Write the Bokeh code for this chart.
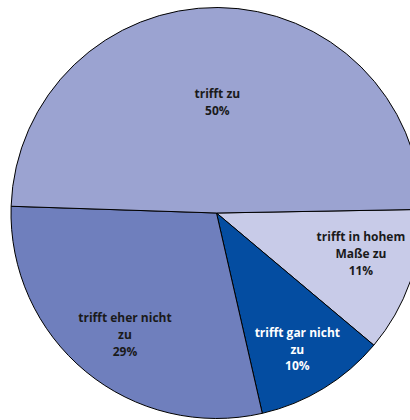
import math
from bokeh.plotting import figure
from bokeh.models import Range1d, ColumnDataSource
from bokeh.core.properties import value
from bokeh.embed import file_html
from bokeh.resources import INLINE

# Data (clockwise from the 3 o'clock side)
categories = ["trifft in hohem\nMaße zu", "trifft gar nicht\nzu", "trifft eher nicht\nzu", "trifft zu"]
shares = [11.4, 10.3, 29.1, 49.2]
pct_labels = ["11%", "10%", "29%", "50%"]

colors = ["#C8CBE8", "#044DA1", "#6F7FBD", "#9BA3D1"]
text_colors = ["#1a1a1a", "#ffffff", "#1a1a1a", "#1a1a1a"]
label_frac = [0.73, 0.77, 0.74, 0.54]
label_shift = [3.8, -0.7, 2.5, 0.0]   # degrees

W, H = 410, 420
cx, cy, r = 216.0, 207.5, 205.5
start_deg = 1.0

total = sum(shares)
starts, ends, lx, ly, texts = [], [], [], [], []
a = start_deg
for i, s in enumerate(shares):
    sweep = 360.0 * s / total
    b = a - sweep
    starts.append(math.radians(b))
    ends.append(math.radians(a))
    mid = math.radians((a + b) / 2 + label_shift[i])
    lx.append(cx + label_frac[i] * r * math.cos(mid))
    ly.append(cy + label_frac[i] * r * math.sin(mid))
    texts.append(categories[i] + "\n" + pct_labels[i])
    a = b

src = ColumnDataSource(dict(start=starts, end=ends, color=colors, lx=lx, ly=ly,
                            text=texts, tcolor=text_colors))

p = figure(width=W, height=H, output_backend="svg", toolbar_location=None,
           x_range=Range1d(0, W), y_range=Range1d(0, H), min_border=0)
p.axis.visible = False
p.grid.visible = False
p.outline_line_color = None
p.background_fill_color = "white"
p.border_fill_color = "white"

p.wedge(x=cx, y=cy, radius=r, start_angle="start", end_angle="end",
        fill_color="color", line_color="black", line_width=1, source=src)

p.text(x="lx", y="ly", text="text", source=src, text_align="center",
       text_baseline="middle", text_font=value("Open Sans"), text_font_style="bold",
       text_font_size="12px", text_line_height=0.98, text_color="tcolor")

open("out.html", "w").write(file_html(p, INLINE))
